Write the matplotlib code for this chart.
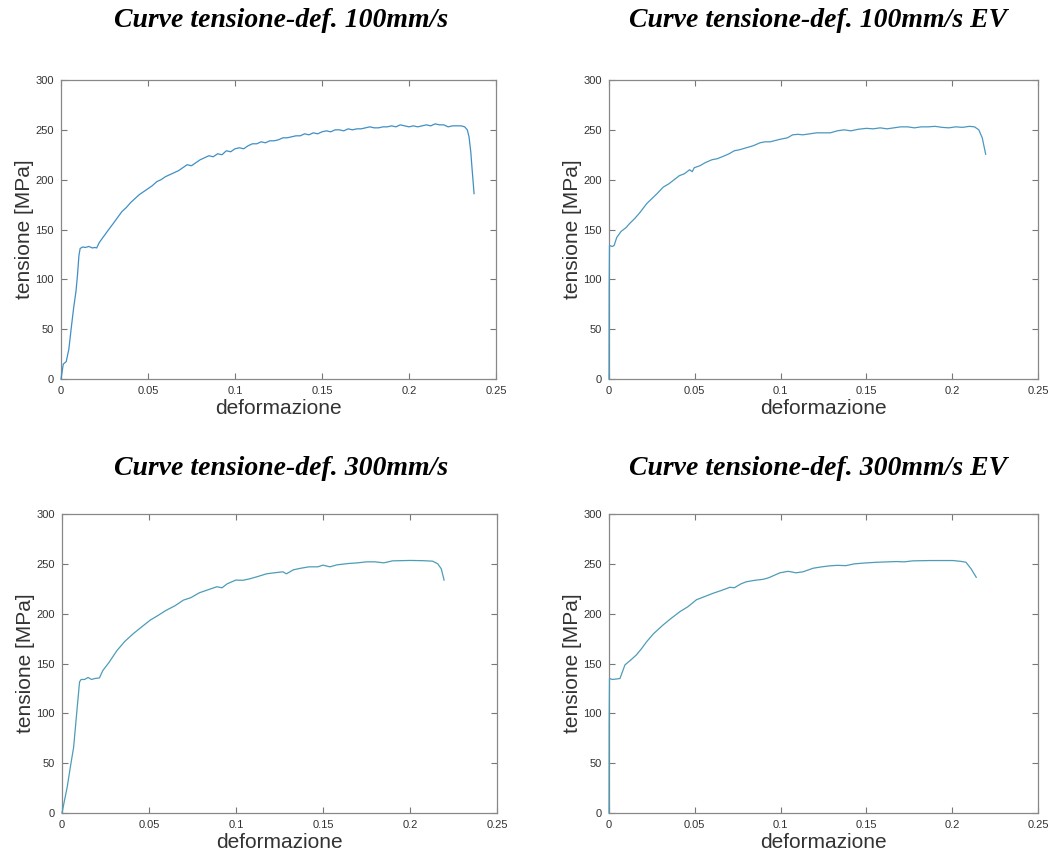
import matplotlib
matplotlib.use('Agg')
import matplotlib.pyplot as plt

# 100mm/s
x1 = [0, 0.0013, 0.003, 0.0045, 0.006, 0.0073, 0.0086, 0.0095, 0.0103, 0.011, 0.0125, 0.014, 0.016, 0.018,
      0.0195, 0.0205, 0.022, 0.0245, 0.027, 0.03, 0.0325, 0.035, 0.0375, 0.04, 0.0425, 0.045, 0.0475, 0.05,
      0.0525, 0.055, 0.0575, 0.06, 0.0625, 0.065, 0.0675, 0.07, 0.0725, 0.075, 0.0775, 0.08, 0.0825, 0.085,
      0.0875, 0.09, 0.0925, 0.095, 0.0975, 0.1, 0.1025, 0.105, 0.1075, 0.11, 0.1125, 0.115, 0.1175, 0.12,
      0.1225, 0.125, 0.1275, 0.13, 0.1325, 0.135, 0.1375, 0.14, 0.1425, 0.145, 0.1475, 0.15, 0.1525, 0.155,
      0.1575, 0.16, 0.1625, 0.165, 0.1675, 0.17, 0.1725, 0.175, 0.1775, 0.18, 0.1825, 0.185, 0.1875, 0.19,
      0.1925, 0.195, 0.1975, 0.2, 0.2025, 0.205, 0.2075, 0.21, 0.2125, 0.215, 0.2175, 0.22, 0.2225, 0.225,
      0.2275, 0.23, 0.232, 0.2335, 0.2345, 0.2355, 0.2362, 0.2368, 0.2374]
y1 = [0, 15, 17.5, 30, 53, 72, 88, 105, 124, 131, 132.5, 132, 133, 131.5,
      132, 131.5, 137, 143, 149, 156, 162, 168, 172, 177, 181, 185, 188, 191,
      194, 198, 200, 203, 205, 207, 209, 212, 215, 214, 217, 220, 222, 224,
      223, 226, 225, 229, 228, 231, 232, 231, 234, 236, 236, 238, 237, 239,
      239, 240, 242, 242, 243, 244, 244, 246, 245, 247, 246, 248, 249, 248,
      250, 250, 249, 251, 250, 251, 251, 252, 253, 252, 252, 253, 253, 254,
      253, 255, 254, 253, 254, 253, 254, 255, 254, 256, 255, 255, 253, 254,
      254, 254, 253, 250, 243, 228, 212, 199, 186]

# 100mm/s EV
x2 = [0, 0.0001, 0.0003, 0.001, 0.002, 0.003, 0.0045, 0.007, 0.01, 0.012, 0.015, 0.018, 0.022, 0.025,
      0.028, 0.0316, 0.035, 0.038, 0.041, 0.044, 0.047, 0.0485, 0.0497, 0.053, 0.056, 0.06, 0.063, 0.066,
      0.07, 0.073, 0.076, 0.08, 0.084, 0.088, 0.091, 0.094, 0.0996, 0.104, 0.107, 0.11, 0.113, 0.117, 0.121,
      0.125, 0.129, 0.133, 0.137, 0.141, 0.145, 0.15, 0.154, 0.158, 0.162, 0.166, 0.17, 0.174, 0.178, 0.182,
      0.186, 0.19, 0.194, 0.198, 0.202, 0.206, 0.21, 0.213, 0.2155, 0.2175, 0.2195]
y2 = [0, 90, 134, 133.5, 133, 134, 142, 148, 152, 156, 161, 167, 176, 181,
      186, 192.5, 196, 200, 204, 206, 210, 208, 212, 214, 217, 220, 221, 223,
      226, 229, 230, 232, 234, 237, 238, 238, 240.5, 242, 245, 245.5, 245, 246, 247,
      247, 247, 249, 250, 249, 250.5, 251.5, 251, 252, 251, 252, 253, 253, 252, 253,
      253, 253.5, 252.5, 252, 253, 252.5, 253.5, 253, 250, 242, 225.5]

# 300mm/s
x3 = [0, 0.0015, 0.003, 0.0048, 0.0067, 0.0086, 0.0101, 0.011, 0.013, 0.015, 0.017, 0.019, 0.0215,
      0.0235, 0.027, 0.0316, 0.036, 0.041, 0.046, 0.0507, 0.055, 0.06, 0.065, 0.0698, 0.074, 0.079,
      0.084, 0.089, 0.092, 0.095, 0.0999, 0.104, 0.108, 0.112, 0.1176, 0.122, 0.127, 0.129, 0.133,
      0.137, 0.142, 0.147, 0.15, 0.154, 0.158, 0.165, 0.17, 0.175, 0.18, 0.185, 0.19, 0.2, 0.207,
      0.213, 0.216, 0.218, 0.2196]
y3 = [0, 13, 26, 46, 66, 103, 131.5, 134, 134, 136, 134, 135, 135.5,
      143, 151, 163, 172, 180, 187, 193.5, 198, 203.5, 208, 213.6, 216, 221,
      224, 227, 226, 230, 233.7, 233.5, 235, 237, 240, 241, 242, 240, 244,
      245.5, 247, 247, 248.7, 247, 249, 250.4, 251, 252, 252, 251, 253, 253.4, 253.2,
      252.7, 250, 245, 233.7]

# 300mm/s EV
x4 = [0, 0.0001, 0.0003, 0.002, 0.0045, 0.0064, 0.0093, 0.013, 0.016, 0.019, 0.022, 0.026, 0.0316,
      0.036, 0.0413, 0.046, 0.051, 0.0555, 0.0607, 0.065, 0.0705, 0.073, 0.077, 0.08, 0.085, 0.0899,
      0.093, 0.0996, 0.1044, 0.109, 0.113, 0.119, 0.124, 0.1287, 0.133, 0.138, 0.143, 0.148, 0.155,
      0.1675, 0.172, 0.177, 0.187, 0.1935, 0.2005, 0.205, 0.208, 0.211, 0.214]
y4 = [0, 90, 135, 134, 134.5, 135, 148.6, 154, 158.7, 165, 172, 180, 188.8,
      195, 202, 207, 214, 217, 220.5, 223, 226.5, 226, 230, 232, 233.5, 234.5,
      236, 241, 242.5, 241, 242, 245.6, 247, 248, 248.5, 248.2, 250, 250.7, 251.5,
      252.3, 252, 253, 253.3, 253.3, 253.3, 252.5, 251.6, 245, 236.5]

titles = ['Curve tensione-def. 100mm/s', 'Curve tensione-def. 100mm/s EV',
          'Curve tensione-def. 300mm/s', 'Curve tensione-def. 300mm/s EV']
xticks = [0, 0.05, 0.1, 0.15, 0.2, 0.25]
xticklabels = ['0', '0.05', '0.1', '0.15', '0.2', '0.25']
yticks = [0, 50, 100, 150, 200, 250, 300]

fig = plt.figure(figsize=(10.63, 8.63), dpi=100)

boxes = [[0.0574, 0.5608, 0.4092, 0.3465],
         [0.5729, 0.5608, 0.4036, 0.3465],
         [0.0583, 0.0579, 0.4092, 0.3465],
         [0.5729, 0.0579, 0.4036, 0.3465]]
curves = [(x1, y1, '#3f8fc6'), (x2, y2, '#4a98bf'), (x3, y3, '#4c9db6'), (x4, y4, '#4e9cb6')]
title_pos = [(0.264, 0.9768), (0.770, 0.9768), (0.264, 0.4577), (0.770, 0.4577)]

for i in range(4):
    ax = fig.add_axes(boxes[i])
    x, y, c = curves[i]
    ax.plot(x, y, color=c, linewidth=0.9, clip_on=False, zorder=5)
    ax.set_xlim(0, 0.25)
    ax.set_ylim(0, 300)
    ax.set_xticks(xticks)
    ax.set_xticklabels(xticklabels)
    ax.set_yticks(yticks)
    ax.tick_params(direction='in', top=True, right=True, length=4, width=0.8,
                   color='#777777', labelcolor='#333333', labelsize=8, pad=5)
    for s in ax.spines.values():
        s.set_color('#888888')
        s.set_linewidth(0.9)
    for lab in ax.get_xticklabels() + ax.get_yticklabels():
        lab.set_family('Liberation Sans')
    ax.set_ylabel('tensione [MPa]', fontsize=15, family='Liberation Sans', color='#333333', labelpad=1)
    ax.set_xlabel('deformazione', fontsize=15, family='Liberation Sans', color='#333333', labelpad=2)
    fig.text(title_pos[i][0], title_pos[i][1], titles[i], ha='center', va='center',
             fontsize=20, family='Liberation Serif', weight='bold', style='italic', color='black')

fig.savefig('out.png', dpi=100, facecolor='white')
